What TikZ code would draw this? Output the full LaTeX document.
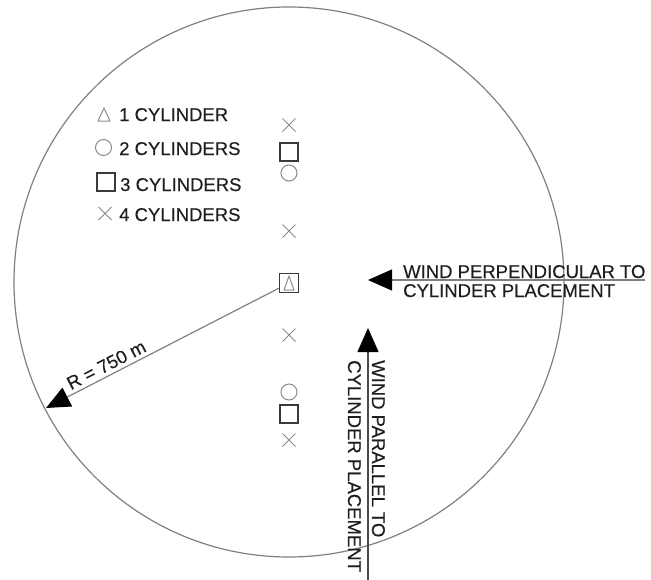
\documentclass[tikz,border=0pt]{standalone}
\usepackage{fontspec}
\setmainfont{Liberation Sans}
\newfontfamily\lblfont{Liberation Sans}[BoldFont=Liberation Sans, BoldFeatures={FakeBold=0.3}]
\usetikzlibrary{arrows.meta,shapes.misc}
\definecolor{linegray}{HTML}{808080}
\definecolor{markgray}{HTML}{8A8A8A}
\definecolor{sqgray}{HTML}{3A3A3A}
\definecolor{darkline}{HTML}{4A4A4A}
\definecolor{txt}{HTML}{1E1E1E}
\begin{document}
\begin{tikzpicture}[x=1pt,y=-1pt,
  lbl/.style={font=\lblfont\bfseries\fontsize{18.5pt}{22pt}\selectfont, text=txt, inner sep=0pt},
  mkx/.style={cross out, draw=markgray, line width=1pt, minimum size=12pt, inner sep=0pt},
  mko/.style={circle, draw=markgray, line width=1pt, minimum size=16pt, inner sep=0pt},
  mks/.style={rectangle, draw=sqgray, line width=1.4pt, minimum size=18pt, inner sep=0pt},
  mkt/.style={draw=markgray, line width=1pt, line join=round},
  arrowline/.style={draw=linegray, line width=1.2pt, -{Triangle[length=24pt,width=21pt,color=black]}}
]
\useasboundingbox (0,0) rectangle (651,579);
% field
\node[circle, draw=linegray, line width=1.2pt, minimum size=550pt, inner sep=0pt] (field) at (289,282) {};
% column of cylinders
\node[mkx] (x1) at (289,125) {};
\node[mks] (s1) at (289,152) {};
\node[mko] (o1) at (289,173) {};
\node[mkx] (x2) at (289,231) {};
\node[mks, minimum size=19pt] (ctr) at (289,283) {};
\draw[mkt] (ctr.center) ++(0,-7) -- ++(5,14) -- ++(-10,0) -- cycle;
\node[mkx] (x3) at (289,335) {};
\node[mko] (o2) at (289,392) {};
\node[mks] (s2) at (289,414) {};
\node[mkx] (x4) at (289,440) {};
% legend
\coordinate (lt) at (104,115);
\draw[mkt] (lt) ++(0,-7) -- ++(6,13) -- ++(-12,0) -- cycle;
\node[mko] (lo) at (103.5,147.5) {};
\node[mks] (ls) at (106,182) {};
\node[mkx] (lx) at (105,213.5) {};
\node[lbl, anchor=base west] (l1) at (119,121) {1 CYLINDER};
\node[lbl, anchor=base west] (l2) at (119,155) {2 CYLINDERS};
\node[lbl, anchor=base west] (l3) at (120,191) {3 CYLINDERS};
\node[lbl, anchor=base west] (l4) at (119,221) {4 CYLINDERS};
% radius
\coordinate (rtip) at (46,408);
\draw[arrowline] (ctr) -- (rtip);
\path (rtip) -- (ctr) node[pos=0.28, sloped, above=4pt, lbl] (rl) {R = 750 m};
% wind perpendicular
\coordinate (ptip) at (368,280);
\coordinate (pend) at (645,280);
\draw[arrowline] (pend) -- (ptip);
\node[lbl, anchor=base west] (p1) at (403,278) {WIND PERPENDICULAR TO};
\node[lbl, anchor=base west] (p2) at (403,297) {CYLINDER PLACEMENT};
% wind parallel
\coordinate (vtip) at (368,328);
\coordinate (vend) at (368,590);
\draw[arrowline, draw=darkline] (vend) -- (vtip);
\node[lbl, rotate=-90, anchor=base west] (v1) at (372,360) {WIND PARALLEL TO};
\node[lbl, rotate=-90, anchor=base west] (v2) at (348,360) {CYLINDER PLACEMENT};
\end{tikzpicture}
\end{document}
